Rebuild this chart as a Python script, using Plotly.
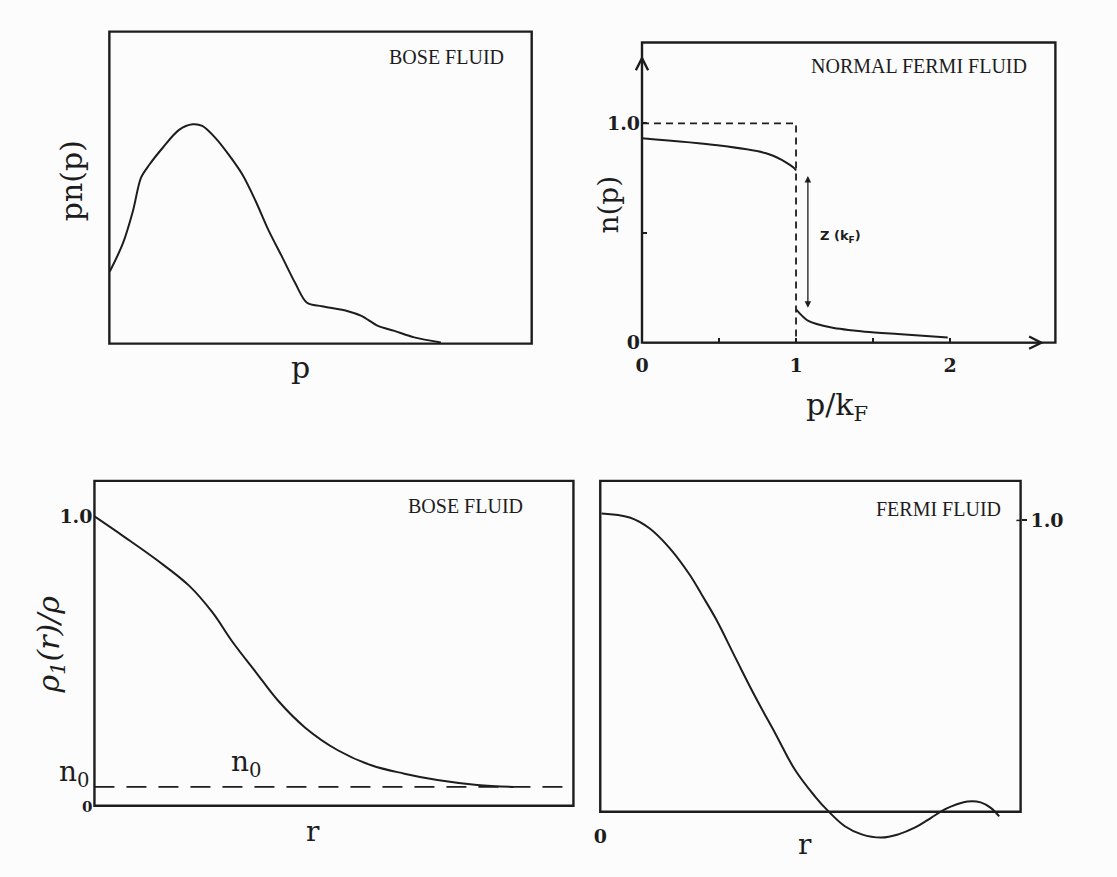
import plotly.graph_objects as go

W, H = 1117, 877
INK = "#1d1d1d"
SERIF = "DejaVu Serif"
CAPS = "Liberation Serif"

# ---- Bose fluid: momentum distribution p n(p), arbitrary units
bose_p = [0.001, 0.032, 0.056, 0.075, 0.095, 0.126, 0.165, 0.197, 0.220, 0.252, 0.283, 0.315,
          0.346, 0.377, 0.409, 0.440, 0.468, 0.503, 0.565, 0.597, 0.636, 0.675, 0.722, 0.785]
bose_pn = [0.231, 0.321, 0.426, 0.532, 0.574, 0.627, 0.685, 0.703, 0.698, 0.658, 0.605, 0.542,
           0.458, 0.363, 0.278, 0.194, 0.131, 0.120, 0.104, 0.089, 0.057, 0.041, 0.020, 0.004]

# ---- Normal Fermi fluid: n(p) against p/k_F
fermi_in_p = [0.0, 0.49, 0.80, 0.91, 0.96, 0.99, 1.0]
fermi_in_n = [0.932, 0.900, 0.865, 0.833, 0.811, 0.795, 0.785]
fermi_out_p = [1.0, 1.08, 1.23, 1.447, 1.66, 1.985]
fermi_out_n = [0.152, 0.099, 0.069, 0.050, 0.039, 0.024]
step_p = [0.0, 1.0, 1.0]
step_n = [1.0, 1.0, 0.0]
z_p = 1.077
z_low, z_high = 0.159, 0.767

# ---- One-body density matrix, Bose fluid
bose_r = [0.0, 0.06, 0.129, 0.198, 0.246, 0.288, 0.336, 0.384, 0.44, 0.509,
          0.578, 0.647, 0.716, 0.799, 0.875]
bose_rho = [1.0, 0.932, 0.851, 0.760, 0.669, 0.567, 0.464, 0.362, 0.270, 0.191,
            0.140, 0.111, 0.089, 0.072, 0.065]
n0 = 0.065

# ---- One-body density matrix, Fermi fluid
fermi_r = [0.003, 0.070, 0.117, 0.165, 0.212, 0.243, 0.275, 0.322, 0.370, 0.417, 0.464, 0.511,
           0.543, 0.582, 0.622, 0.669, 0.709, 0.748, 0.787, 0.811, 0.835, 0.874, 0.905, 0.929, 0.949]
fermi_rho = [1.024, 1.010, 0.973, 0.905, 0.815, 0.741, 0.662, 0.527, 0.391, 0.267, 0.142, 0.052,
             0.001, -0.050, -0.078, -0.089, -0.078, -0.055, -0.021, 0.001, 0.018, 0.035, 0.032, 0.013, -0.016]


def px(x):
    return x / W


def py(y):
    return 1 - y / H


fig = go.Figure()

curve = dict(color=INK, width=2)
fig.add_trace(go.Scatter(x=bose_p, y=bose_pn, mode="lines", line=dict(shape="spline", smoothing=0.9, **curve),
                         xaxis="x", yaxis="y"))
fig.add_trace(go.Scatter(x=fermi_in_p, y=fermi_in_n, mode="lines", line=dict(shape="spline", smoothing=0.8, **curve),
                         xaxis="x2", yaxis="y2"))
fig.add_trace(go.Scatter(x=fermi_out_p, y=fermi_out_n, mode="lines", line=dict(shape="spline", smoothing=0.8, **curve),
                         xaxis="x2", yaxis="y2"))
fig.add_trace(go.Scatter(x=step_p, y=step_n, mode="lines", line=dict(color=INK, width=1.8, dash="7px,5px"),
                         xaxis="x2", yaxis="y2"))
fig.add_trace(go.Scatter(x=bose_r, y=bose_rho, mode="lines", line=dict(shape="spline", smoothing=1.1, **curve),
                         xaxis="x3", yaxis="y3"))
fig.add_trace(go.Scatter(x=[0, 1], y=[n0, n0], mode="lines", line=dict(color=INK, width=1.8, dash="20px,12px"),
                         xaxis="x3", yaxis="y3"))
fig.add_trace(go.Scatter(x=fermi_r, y=fermi_rho, mode="lines", line=dict(shape="spline", smoothing=1.1, **curve),
                         xaxis="x4", yaxis="y4"))

hidden = dict(visible=False, showgrid=False, zeroline=False, fixedrange=True)
num_font = dict(family=SERIF, size=19, color=INK, weight="bold")
minor_ticks = dict(ticks="inside", ticklen=5, tickwidth=1.5, tickcolor=INK, showgrid=False)

fig.update_layout(
    width=W, height=H,
    margin=dict(l=0, r=0, t=0, b=0),
    paper_bgcolor="#fcfcfd", plot_bgcolor="rgba(0,0,0,0)",
    showlegend=False,
    xaxis=dict(domain=[px(103), px(528)], range=[0, 1], anchor="y", **hidden),
    yaxis=dict(domain=[py(348), py(32)], range=[0, 1], anchor="x", **hidden),
    xaxis2=dict(domain=[px(639), px(1055)], range=[0, 416 / 155], anchor="y2",
                tickvals=[0, 1, 2], ticktext=["0", "1", "2"],
                ticks="inside", ticklen=5, tickwidth=1.5, tickcolor=INK,
                minor=dict(tickvals=[0.5, 1.5], **minor_ticks),
                tickfont=num_font, ticklabelstandoff=9,
                showgrid=False, zeroline=False, showline=False),
    yaxis2=dict(domain=[py(347), py(43)], range=[0, 304 / 222], anchor="x2",
                tickvals=[0, 1.0], ticktext=["0", "1.0"],
                ticks="inside", ticklen=5, tickwidth=1.5, tickcolor=INK,
                minor=dict(tickvals=[0.5], **minor_ticks),
                tickfont=num_font, ticklabelstandoff=1,
                showgrid=False, zeroline=False, showline=False),
    xaxis3=dict(domain=[px(88), px(570)], range=[0, 1], anchor="y3", **hidden),
    yaxis3=dict(domain=[py(816), py(487)], range=[0, 329 / 293], anchor="x3",
                tickvals=[0, 1.0], ticktext=["<span style='font-size:15px'>0</span>", "1.0"],
                ticks="", tickfont=num_font, ticklabelstandoff=1,
                showgrid=False, zeroline=False, showline=False),
    xaxis4=dict(domain=[px(597), px(1020)], range=[0, 1], anchor="free", position=py(822),
                tickvals=[0], ticktext=["0"], ticks="", tickfont=num_font, ticklabelstandoff=11,
                showgrid=False, zeroline=False, showline=False),
    yaxis4=dict(domain=[py(857), py(487)], range=[-35 / 295, 335 / 295], anchor="x4", side="right",
                tickvals=[1.0], ticktext=["1.0"], ticks="outside", ticklen=5, tickwidth=1.5, tickcolor=INK,
                tickfont=num_font, ticklabelstandoff=0,
                showgrid=False, zeroline=False, showline=False),
)

frame = dict(color=INK, width=2.4)
for xr, yr in [("x", "y"), ("x2", "y2"), ("x3", "y3")]:
    fig.add_shape(type="rect", xref=f"{xr} domain", yref=f"{yr} domain", x0=0, x1=1, y0=0, y1=1,
                  line=frame, layer="above")
# the Fermi density-matrix curve dips below its frame, so the frame is set in page units
fig.add_shape(type="rect", xref="paper", yref="paper", x0=px(597), x1=px(1020), y0=py(822), y1=py(487),
              line=frame, layer="above")
# short tick crossing the right edge at 1.0
fig.add_shape(type="line", xref="x4 domain", yref="y4", x0=0.99, x1=1.0, y0=1.0, y1=1.0,
              line=dict(color=INK, width=1.5))

# axis arrows and the quasiparticle-strength jump in the Fermi panel
fig.add_annotation(x=0, y=1.31, ax=0, ay=0, xref="x2", yref="y2", axref="x2", ayref="y2",
                   showarrow=True, text="", arrowcolor=INK, arrowhead=5, arrowsize=1.6, arrowwidth=1.5)
fig.add_annotation(x=2.61, y=0, ax=0, ay=0, xref="x2", yref="y2", axref="x2", ayref="y2",
                   showarrow=True, text="", arrowcolor=INK, arrowhead=5, arrowsize=1.6, arrowwidth=1.5)
fig.add_annotation(x=z_p, y=z_low, ax=z_p, ay=z_high, xref="x2", yref="y2", axref="x2", ayref="y2",
                   showarrow=True, text="", arrowcolor=INK, arrowside="end+start",
                   arrowhead=2, startarrowhead=2, arrowsize=1, startarrowsize=1, arrowwidth=1.3)


def label(text, x, y, size, family=SERIF, angle=0, **kw):
    fig.add_annotation(text=text, x=px(x), y=py(y), xref="paper", yref="paper", showarrow=False,
                       textangle=angle, xanchor="center", yanchor="middle",
                       font=dict(family=family, size=size, color=INK, **kw))


label("Z (k<sub>F</sub>)", 839, 240, 13, family="DejaVu Sans", weight="bold")

# panel titles
label("BOSE FLUID", 442, 58, 20, family=CAPS)
label("NORMAL FERMI FLUID", 918, 67, 20, family=CAPS)
label("BOSE FLUID", 461, 512, 20, family=CAPS)
label("FERMI FLUID", 937, 515, 20, family=CAPS)

# axis titles
label("pn(p)", 65, 183, 30, angle=-90)
label("p", 295, 372, 30)
label("n(p)", 605, 207, 28, angle=-90)
label("p/k<sub>F</sub>", 835, 412, 30)
label("ρ<sub>1</sub>(<i>r</i>)/ρ", 44, 653, 30, angle=-90, style="italic")
label("r", 308, 842, 28)
label("r", 803, 855, 28)

# condensate fraction marks
label("n<sub>0</sub>", 68, 783, 28)
label("n<sub>0</sub>", 241, 773, 28)

fig.write_html("out.html")
